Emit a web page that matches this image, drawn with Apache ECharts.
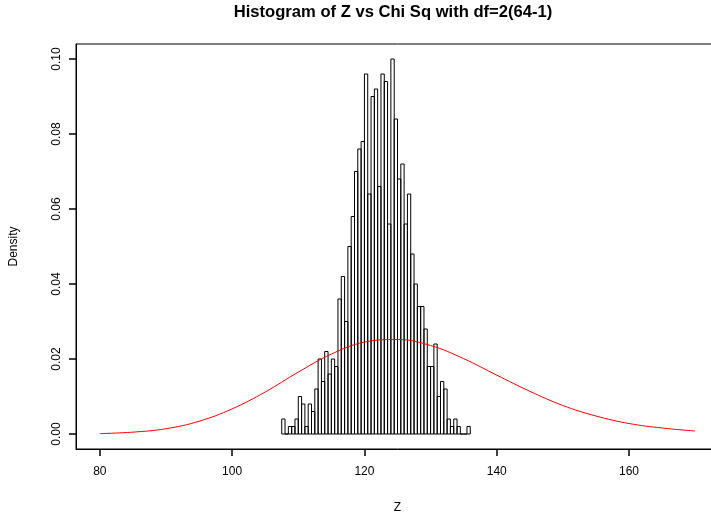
<!DOCTYPE html>
<html>
<head>
<meta charset="utf-8">
<script src="https://cdn.jsdelivr.net/npm/echarts@6/dist/echarts.min.js"></script>
<style>
html,body{margin:0;padding:0;background:#fff;overflow:hidden;}
#c{width:719px;height:519px;}
</style>
</head>
<body>
<div id="c"></div>
<script>
// ---- data ----
const titleText = 'Histogram of Z vs Chi Sq with df=2(64-1)';
const xName = 'Z';
const yName = 'Density';
const xTicks = [80, 100, 120, 140, 160];
const yTicks = [0, 0.02, 0.04, 0.06, 0.08, 0.10];
const breaks = [107.5,108,108.5,109,109.5,110,110.5,111,111.5,112,112.5,113,113.5,114,114.5,115,115.5,116,116.5,117,117.5,118,118.5,119,119.5,120,120.5,121,121.5,122,122.5,123,123.5,124,124.5,125,125.5,126,126.5,127,127.5,128,128.5,129,129.5,130,130.5,131,131.5,132,132.5,133,133.5,134,134.5,135,135.5,136];
const density = [0.004,0,0.002,0.002,0.004,0.010,0.008,0.002,0.008,0.006,
                 0.012,0.020,0.014,0.022,0.016,0.020,0.018,0.036,0.042,0.030,
                 0.050,0.058,0.070,0.076,0.078,0.096,0.064,0.090,0.092,0.066,
                 0.096,0.094,0.056,0.100,0.084,0.068,0.072,0.056,0.064,0.048,
                 0.040,0.034,0.034,0.028,0.018,0.018,0.024,0.010,0.014,0.012,
                 0.004,0.002,0.004,0.002,0,0,0.002];
const curveX = [80,85,90,95,100,105,110,115,120,125,130,135,140,145,150,155,160,165,170];
const curveY = [0.0001,0.0005,0.0014,0.0034,0.0067,0.0112,0.0165,0.0213,0.0245,0.0252,0.0236,0.0201,0.0157,0.0114,0.0076,0.0048,0.0028,0.0016,0.0008];

// ---- build ----
const X_MIN = 76.4, X_MAX = 173.6, Y_MIN = -0.004, Y_MAX = 0.104;
const histData = density.map((d, i) => [breaks[i], breaks[i + 1], d]);
const curveData = curveX.map((x, i) => [x, curveY[i]]);
const FONT = '"Liberation Sans", Arial, sans-serif';

const chart = echarts.init(document.getElementById('c'), null, {renderer: 'canvas'});
chart.setOption({
  animation: false,
  backgroundColor: '#fff',
  grid: {
    left: 76, right: 0, top: 44, bottom: 70,
    show: true, borderColor: '#000', borderWidth: 1,
    containLabel: false, outerBoundsMode: 'none'
  },
  graphic: [{
    type: 'text', x: 393, y: 12,
    style: {text: titleText, textAlign: 'center', textVerticalAlign: 'middle',
            font: 'bold 16.6px ' + FONT, fill: '#000'}
  }],
  xAxis: {
    type: 'value', min: X_MIN, max: X_MAX,
    position: 'bottom',
    name: xName, nameLocation: 'middle', nameGap: 53,
    nameTextStyle: {fontFamily: FONT, fontSize: 12, color: '#000'},
    axisLine: {show: true, onZero: false, lineStyle: {color: '#000', width: 1}},
    splitLine: {show: false},
    axisTick: {show: true, inside: false, length: 7, interval: 0, customValues: xTicks,
               lineStyle: {color: '#000', width: 1.5}},
    axisLabel: {show: true, customValues: xTicks, margin: 17, fontFamily: FONT, fontSize: 12, color: '#000'}
  },
  yAxis: {
    type: 'value', min: Y_MIN, max: Y_MAX,
    position: 'left',
    name: yName, nameLocation: 'middle', nameGap: 56, nameRotate: 90,
    nameTextStyle: {fontFamily: FONT, fontSize: 12, color: '#000'},
    axisLine: {show: true, onZero: false, lineStyle: {color: '#000', width: 1}},
    splitLine: {show: false},
    axisTick: {show: true, inside: false, length: 7, interval: 0, customValues: yTicks,
               lineStyle: {color: '#000', width: 1.5}},
    axisLabel: {show: true, customValues: yTicks, rotate: 90, margin: 13, fontFamily: FONT, fontSize: 12, color: '#000',
                formatter: v => Number(v).toFixed(2)}
  },
  series: [{
    type: 'custom',
    data: histData,
    encode: {x: [0, 1], y: 2},
    renderItem: function (params, api) {
      const p0 = api.coord([api.value(0), api.value(2)]);
      const p1 = api.coord([api.value(1), 0]);
      return {
        type: 'rect',
        shape: {x: p0[0], y: p0[1], width: p1[0] - p0[0], height: p1[1] - p0[1]},
        style: {fill: 'none', stroke: '#000', lineWidth: 1}
      };
    },
    z: 2
  }, {
    type: 'line',
    data: curveData,
    showSymbol: false,
    smooth: 0.4,
    lineStyle: {color: '#ff0000', width: 1},
    z: 3
  }]
});
</script>
</body>
</html>
